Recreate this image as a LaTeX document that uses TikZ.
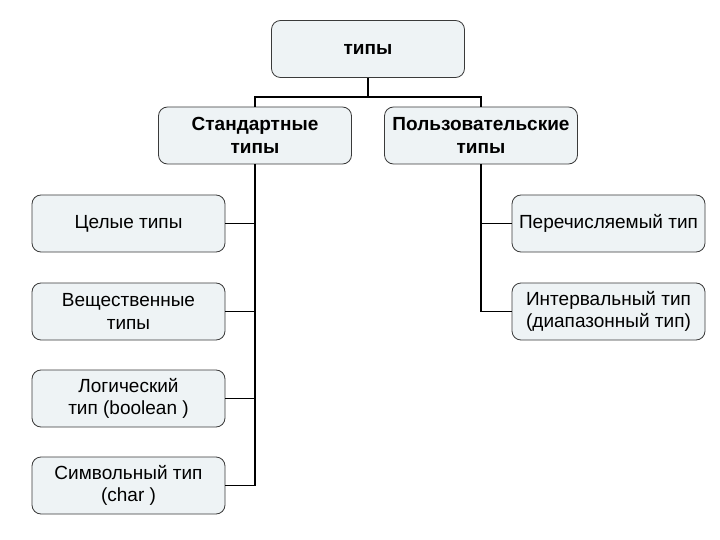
\documentclass[tikz,border=0pt]{standalone}
\usepackage{fontspec}
\setmainfont{Liberation Sans}
\definecolor{boxfill}{HTML}{EEF3F5}
\definecolor{boxline}{HTML}{3A3A3A}
\begin{document}
\begin{tikzpicture}[x=1pt,y=-1pt,
  box/.style={draw=boxline, line width=0.8pt, fill=boxfill, rounded corners=9pt,
    minimum width=193pt, minimum height=57pt, align=center, inner sep=1pt,
    font=\fontsize{19}{22.5}\selectfont},
  headbox/.style={box, font=\fontsize{19}{22.5}\selectfont\bfseries},
  conn/.style={draw=black, line width=1.8pt}]
\useasboundingbox[fill=white] (0,0) rectangle (720,540);
\node[headbox] (top) at (368,49) {типы};
\node[headbox] (std) at (255,135.5) {Стандартные\\типы};
\node[headbox] (usr) at (481,135.5) {Пользовательские\\типы};
\node[box] (cel) at (128.5,223.5) {Целые типы};
\node[box] (vesh) at (128.5,311.5) {Вещественные\\типы};
\node[box] (log) at (128.5,398.5) {Логический\\тип (boolean )};
\node[box] (sym) at (128.5,485.5) {Символьный тип\\(char )};
\node[box] (per) at (608.5,223.5) {Перечисляемый тип};
\node[box] (int) at (608.5,311.5) {Интервальный тип\\(диапазонный тип)};
\coordinate (bus) at (368,97);
\draw[conn] (top.south) -- (bus);
\draw[conn] (std.north) |- (bus) -| (usr.north);
\draw[conn] (std.south) |- (sym.east);
\draw[conn] (std.south |- cel.east) -- (cel.east);
\draw[conn] (std.south |- vesh.east) -- (vesh.east);
\draw[conn] (std.south |- log.east) -- (log.east);
\draw[conn] (usr.south) |- (int.west);
\draw[conn] (usr.south |- per.west) -- (per.west);
\end{tikzpicture}
\end{document}
